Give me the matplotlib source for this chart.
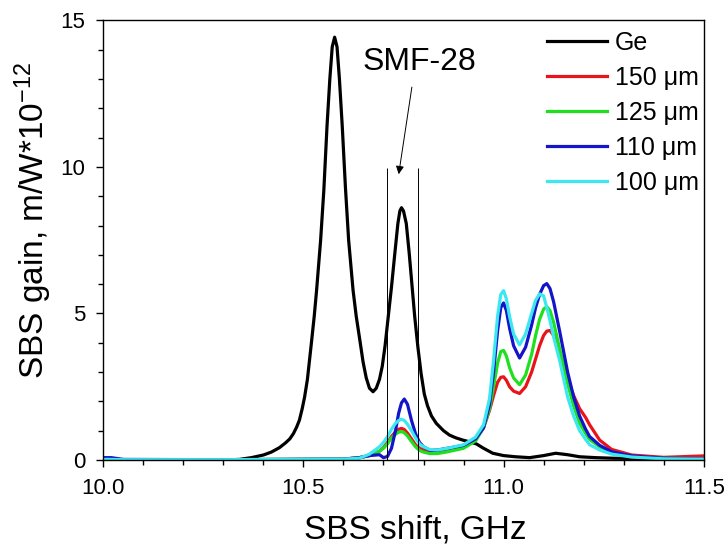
import matplotlib
matplotlib.use('Agg')
import matplotlib.pyplot as plt
from matplotlib.ticker import MultipleLocator

plt.rcParams['font.family'] = ['Liberation Sans', 'DejaVu Sans']
plt.rcParams['mathtext.default'] = 'regular'

# SBS gain spectra
ge_x = [10.00, 10.30, 10.34, 10.37, 10.40, 10.42, 10.44, 10.455, 10.466, 10.475,
        10.483, 10.49, 10.497, 10.503, 10.51, 10.52, 10.527, 10.533, 10.543, 10.551,
        10.559, 10.566, 10.572, 10.578, 10.584, 10.59, 10.597, 10.605, 10.613, 10.624,
        10.632, 10.641, 10.649, 10.657, 10.665, 10.674, 10.682, 10.69, 10.697, 10.704,
        10.712, 10.72, 10.728, 10.736, 10.741, 10.745, 10.75, 10.757, 10.764, 10.771,
        10.778, 10.786, 10.794, 10.802, 10.81, 10.82, 10.832, 10.85, 10.865, 10.88,
        10.898, 10.915, 10.932, 10.95, 10.973, 11.00, 11.03, 11.065, 11.10, 11.13,
        11.16, 11.19, 11.23, 11.273, 11.35, 11.50]
ge_y = [0.00, 0.00, 0.02, 0.08, 0.17, 0.27, 0.42, 0.58, 0.72, 0.90,
        1.12, 1.36, 1.75, 2.15, 2.75, 4.00, 4.90, 5.80, 7.50, 9.20,
        11.40, 13.00, 14.10, 14.43, 14.10, 13.00, 11.40, 9.30, 7.50, 5.80,
        4.90, 4.09, 3.35, 2.80, 2.45, 2.33, 2.45, 2.75, 3.20, 3.90,
        4.90, 5.90, 7.00, 8.07, 8.50, 8.61, 8.50, 8.07, 7.10, 6.00,
        4.90, 3.85, 2.95, 2.25, 1.85, 1.50, 1.25, 1.00, 0.85, 0.76,
        0.68, 0.62, 0.55, 0.40, 0.23, 0.15, 0.11, 0.08, 0.15, 0.23,
        0.18, 0.11, 0.08, 0.06, 0.05, 0.04]

fiber_x = [10.00, 10.02, 10.05, 10.30, 10.60, 10.64, 10.665, 10.69, 10.70, 10.71,
           10.72, 10.73, 10.738, 10.745, 10.752, 10.76, 10.77, 10.78, 10.79, 10.80,
           10.815, 10.835, 10.86, 10.90, 10.93, 10.95, 10.965, 10.975, 10.985, 10.993,
           11.00, 11.007, 11.015, 11.025, 11.04, 11.055, 11.07, 11.08, 11.09, 11.10,
           11.108, 11.116, 11.125, 11.14, 11.16, 11.175, 11.19, 11.205, 11.215, 11.24,
           11.27, 11.32, 11.40, 11.50]
um150_y = [0.01, 0.01, 0.01, 0.01, 0.03, 0.08, 0.15, 0.30, 0.42, 0.60,
           0.80, 0.96, 1.05, 1.08, 1.04, 0.92, 0.72, 0.52, 0.40, 0.34,
           0.30, 0.30, 0.35, 0.45, 0.70, 1.10, 1.70, 2.20, 2.65, 2.82,
           2.84, 2.72, 2.50, 2.35, 2.27, 2.50, 3.00, 3.45, 3.90, 4.25,
           4.40, 4.42, 4.25, 3.70, 2.75, 2.20, 1.75, 1.45, 1.20, 0.68,
           0.36, 0.17, 0.09, 0.14]
um125_y = [0.01, 0.01, 0.01, 0.01, 0.03, 0.08, 0.15, 0.30, 0.40, 0.55,
           0.75, 0.88, 0.95, 0.97, 0.93, 0.82, 0.63, 0.45, 0.33, 0.27,
           0.22, 0.22, 0.28, 0.40, 0.65, 1.10, 1.75, 2.50, 3.30, 3.70,
           3.74, 3.55, 3.15, 2.80, 2.57, 2.90, 3.60, 4.25, 4.80, 5.15,
           5.23, 5.10, 4.70, 3.80, 2.60, 1.85, 1.25, 0.90, 0.70, 0.45,
           0.25, 0.12, 0.06, 0.04]
um110_y = [0.08, 0.08, 0.02, 0.01, 0.03, 0.08, 0.15, 0.18, 0.08, 0.12,
           0.40, 1.00, 1.60, 1.95, 2.08, 1.90, 1.35, 0.90, 0.60, 0.45,
           0.34, 0.34, 0.40, 0.50, 0.72, 1.10, 1.90, 3.00, 4.40, 5.20,
           5.36, 5.10, 4.50, 3.90, 3.48, 3.85, 4.60, 5.20, 5.65, 5.95,
           6.02, 5.85, 5.40, 4.40, 3.00, 2.15, 1.50, 1.05, 0.80, 0.50,
           0.28, 0.14, 0.06, 0.04]
um100_y = [0.02, 0.02, 0.01, 0.01, 0.03, 0.06, 0.20, 0.45, 0.60, 0.80,
           1.05, 1.25, 1.35, 1.39, 1.35, 1.22, 1.00, 0.75, 0.55, 0.45,
           0.36, 0.34, 0.40, 0.52, 0.78, 1.20, 2.10, 3.40, 4.90, 5.65,
           5.78, 5.50, 4.90, 4.30, 3.93, 4.30, 5.00, 5.45, 5.67, 5.60,
           5.20, 4.75, 4.20, 3.40, 2.15, 1.50, 1.00, 0.70, 0.52, 0.34,
           0.20, 0.10, 0.04, 0.03]

labels = ['Ge', '150 μm', '125 μm', '110 μm', '100 μm']
colors = ['black', '#e8141a', '#1ee01e', '#1414c8', '#3ce8f0']
smf_bounds = [10.709, 10.786]

fig = plt.figure(figsize=(7.27, 5.48), dpi=100)
ax = fig.add_axes([0.142, 0.1606, 0.826, 0.802])

ax.plot(ge_x, ge_y, color=colors[0], lw=2.3, label=labels[0], solid_joinstyle='round')
for ys, lab, c in zip([um150_y, um125_y, um110_y, um100_y], labels[1:], colors[1:]):
    ax.plot(fiber_x, ys, color=c, lw=2.3, label=lab, solid_joinstyle='round')

ax.vlines(smf_bounds, 0, 9.95, color='black', lw=0.7)
ax.annotate('', xy=(10.737, 9.66), xytext=(10.772, 12.82),
            arrowprops=dict(arrowstyle='-|>', lw=0.7, color='black', mutation_scale=12))
ax.text(10.789, 13.57, 'SMF-28', fontsize=23, ha='center', va='center')

ax.set_xlim(10.0, 11.5)
ax.set_ylim(0, 15)
ax.xaxis.set_major_locator(MultipleLocator(0.5))
ax.xaxis.set_minor_locator(MultipleLocator(0.1))
ax.yaxis.set_major_locator(MultipleLocator(5))
ax.yaxis.set_minor_locator(MultipleLocator(1))
ax.xaxis.set_major_formatter(plt.FormatStrFormatter('%.1f'))
ax.tick_params(which='major', direction='out', length=5, width=1, labelsize=16, pad=8)
ax.tick_params(which='minor', direction='out', length=3.5, width=1)
for s in ax.spines.values():
    s.set_linewidth(1.0)

ax.set_xlabel('SBS shift, GHz', fontsize=24)
ax.set_ylabel('SBS gain, m/W*10$^{-12}$', fontsize=24)
ax.xaxis.set_label_coords(0.52, -0.125)
ax.yaxis.set_label_coords(-0.082, 0.544)

ax.legend(loc='upper right', bbox_to_anchor=(1.0, 0.987), frameon=False, fontsize=18,
          handlelength=2.4, handletextpad=0.3, labelspacing=0.44, borderpad=0.2,
          borderaxespad=0.0)

fig.savefig('out.png', dpi=100)
